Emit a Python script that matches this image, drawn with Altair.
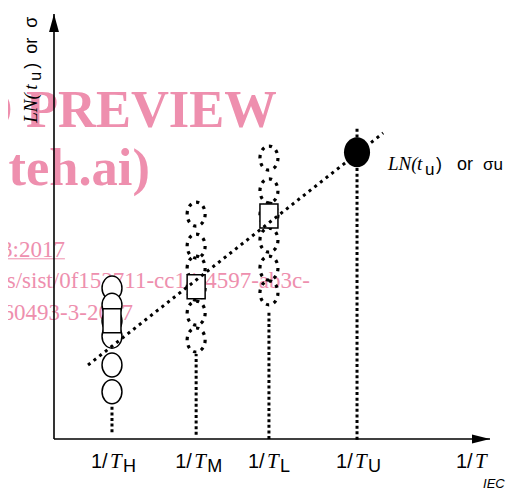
import altair as alt
import pandas as pd

# ---------------- data ----------------
tick_names = ["H", "M", "L", "U"]
tick_x = [1.33, 3.26, 4.93, 6.95]          # 1/T_H, 1/T_M, 1/T_L, 1/T_U
h_circle_y = [3.55, 3.15, 2.78, 2.42, 1.74, 1.11]
m_circle_y = [5.29, 4.54, 4.02, 3.55, 2.96, 2.33]
l_circle_y = [6.61, 5.84, 5.27, 4.68, 4.02, 3.44]
mean_y = [2.78, 3.58, 5.25]                # squares (H, M, L)
u_y = 6.75                                 # extrapolated value at 1/T_U
stem_lo = [0.16, 0.1, 0.0, -0.02]
stem_hi = [0.82, 2.0, 3.0, 7.34]
fit_x = [0.78, 7.55]
fit_y = [1.74, 7.20]
axis_end = 10
last_tick_x = 9.70

wm_texts = ["iTeh STANDARD PREVIEW", "(standards.iteh.ai)", "IEC 60493-3:2017",
            "https://standards.iteh.ai/catalog/standards/sist/0f153711-cc14-4597-ab3c-",
            "iec-60493-3-2017"]
wm_x = [5.11, 2.20, 0.25, 5.87, 1.81]
wm_y = [7.34, 5.98, 4.28, 3.55, 2.80]
wm_bold = [True, True, False, False, False]

PINK = "#ee8fae"
xs = alt.Scale(domain=[0, 10], range=[46, 482], nice=False, zero=False)
ys = alt.Scale(domain=[0, 10], range=[431, 6], nice=False, zero=False)


def X(f):
    return alt.X(f, type="quantitative", scale=xs, axis=None)


def Y(f):
    return alt.Y(f, type="quantitative", scale=ys, axis=None)


ELLIPSE = "M-0.83,0A0.83,1,0,1,1,0.83,0A0.83,1,0,1,1,-0.83,0Z"
ELLIPSE_D = "M-0.75,0A0.75,1,0,1,1,0.75,0A0.75,1,0,1,1,-0.75,0Z"
ELLIPSE_U = "M-0.87,0A0.87,1,0,1,1,0.87,0A0.87,1,0,1,1,-0.87,0Z"
RECT = "M-0.75,-1H0.75V1H-0.75Z"

layers = []

# ---- watermark ----
wm = pd.DataFrame({"t": wm_texts, "x": wm_x, "y": wm_y, "b": wm_bold})
layers.append(alt.Chart(wm[wm.b]).mark_text(
    font="Liberation Serif", fontWeight="bold", fontSize=52.5, color=PINK,
    align="right", baseline="alphabetic").encode(x=X("x"), y=Y("y"), text="t"))
layers.append(alt.Chart(wm[~wm.b]).mark_text(
    font="Liberation Serif", fontSize=23, color=PINK,
    align="right", baseline="alphabetic").encode(x=X("x"), y=Y("y"), text="t"))
ul = pd.DataFrame({"x": [-1.3], "x2": [wm_x[2]], "y": [4.24]})
layers.append(alt.Chart(ul).mark_rule(color=PINK, strokeWidth=1).encode(
    x=X("x"), x2="x2", y=Y("y")))

# ---- axes ----
ax = pd.DataFrame({"x": [0.0], "y": [0.0], "xe": [axis_end], "ye": [axis_end]})
layers.append(alt.Chart(ax).mark_rule(color="black", strokeWidth=1.6).encode(
    x=X("x"), y=Y("y"), y2=alt.Y2("ye")))
layers.append(alt.Chart(ax).mark_rule(color="black", strokeWidth=1.6).encode(
    x=X("x"), x2=alt.X2("xe"), y=Y("y")))
layers.append(alt.Chart(ax).mark_point(
    shape="M0,0L0.55,2L-0.55,2Z", size=324, filled=True, color="black", opacity=1
).encode(x=X("x"), y=Y("ye")))
layers.append(alt.Chart(ax).mark_point(
    shape="M0,0L-2,-0.5L-2,0.5Z", size=324, filled=True, color="black", opacity=1
).encode(x=X("xe"), y=Y("y")))

# ---- vertical dotted stems ----
stems = pd.DataFrame({"x": tick_x, "lo": stem_lo, "hi": stem_hi})
layers.append(alt.Chart(stems).mark_rule(
    color="black", strokeWidth=3, strokeDash=[3, 2.6]).encode(
    x=X("x"), y=Y("lo"), y2=alt.Y2("hi")))

# ---- observation circles ----
hdf = pd.DataFrame({"x": tick_x[0], "y": h_circle_y})
layers.append(alt.Chart(hdf).mark_point(
    shape=ELLIPSE, size=576, filled=False, color="black", strokeWidth=1.5, opacity=1,
    fill="white", fillOpacity=1).encode(x=X("x"), y=Y("y")))
mldf = pd.DataFrame({"x": [tick_x[1]] * len(m_circle_y) + [tick_x[2]] * len(l_circle_y),
                     "y": m_circle_y + l_circle_y})
layers.append(alt.Chart(mldf).mark_point(
    shape=ELLIPSE_D, size=576, filled=False, color="black", strokeWidth=3.2, opacity=1,
    strokeDash=[3.2, 5]).encode(x=X("x"), y=Y("y")))

# ---- means (rectangles) ----
mdf = pd.DataFrame({"x": tick_x[:3], "y": mean_y})
layers.append(alt.Chart(mdf).mark_point(
    shape=RECT, size=576, filled=False, color="black", strokeWidth=1.5, opacity=1,
    fill="white", fillOpacity=1).encode(x=X("x"), y=Y("y")))

# ---- regression line ----
fdf = pd.DataFrame({"x": fit_x, "y": fit_y})
layers.append(alt.Chart(fdf).mark_line(
    color="black", strokeWidth=3, strokeDash=[3, 4.2]).encode(x=X("x"), y=Y("y")))

# ---- extrapolated point ----
udf = pd.DataFrame({"x": [tick_x[3]], "y": [u_y]})
layers.append(alt.Chart(udf).mark_point(
    shape=ELLIPSE_U, size=900, filled=True, color="black", opacity=1).encode(
    x=X("x"), y=Y("y")))

# ---- tick labels ----
tl = pd.DataFrame({"x": tick_x + [last_tick_x], "s": tick_names + [""],
                   "y": -0.68})
base = alt.Chart(tl)
layers.append(base.mark_text(text="1/", font="Liberation Sans", fontSize=20,
                             align="left", baseline="alphabetic", dx=-21,
                             color="black").encode(x=X("x"), y=Y("y")))
layers.append(base.mark_text(text="T", font="Liberation Serif", fontStyle="italic",
                             fontSize=21, align="left", baseline="alphabetic", dx=-2,
                             color="black").encode(x=X("x"), y=Y("y")))
layers.append(base.mark_text(font="Liberation Sans", fontSize=18,
                             align="left", baseline="alphabetic", dx=11, dy=4,
                             color="black").encode(x=X("x"), y=Y("y"), text="s"))

# ---- IEC ----
iec = pd.DataFrame({"x": [9.84], "y": [-1.15], "t": ["IEC"]})
layers.append(alt.Chart(iec).mark_text(font="Liberation Sans", fontStyle="italic",
                                       fontSize=13, align="left", baseline="alphabetic",
                                       color="black").encode(x=X("x"), y=Y("y"), text="t"))

# ---- y axis title (rotated, mixed fonts) ----
ya = pd.DataFrame({"x": [-0.39], "y": [7.44]})
ych = alt.Chart(ya)
ypieces = [("LN(", "Liberation Serif", "italic", 19, 0, 0),
           ("t", "Liberation Serif", "italic", 19, 33, 0),
           ("u", "Liberation Sans", "normal", 16, 42, 4),
           (")", "Liberation Sans", "normal", 18, 54, 0),
           ("or", "Liberation Sans", "normal", 18, 69, 0),
           ("σ", "Liberation Sans", "normal", 18, 95, 0)]
for t, f, st, fs, dx, dy in ypieces:
    layers.append(ych.mark_text(text=t, font=f, fontStyle=st, fontSize=fs, angle=270,
                                align="left", baseline="alphabetic", dx=dx, dy=dy,
                                color="black").encode(x=X("x"), y=Y("y")))

# ---- right annotation ----
ra = pd.DataFrame({"x": [7.66], "y": [6.33]})
rch = alt.Chart(ra)
rpieces = [("LN(", "Liberation Serif", "italic", 19, 0, 0),
           ("t", "Liberation Serif", "italic", 19, 29, 0),
           ("u", "Liberation Sans", "normal", 17, 37, 5),
           (")", "Liberation Sans", "normal", 18, 48, 0),
           ("or", "Liberation Sans", "normal", 18, 69, 0),
           ("σu", "Liberation Sans", "normal", 17, 95, 0)]
for t, f, st, fs, dx, dy in rpieces:
    layers.append(rch.mark_text(text=t, font=f, fontStyle=st, fontSize=fs,
                                align="left", baseline="alphabetic", dx=dx, dy=dy,
                                color="black").encode(x=X("x"), y=Y("y")))

chart = alt.layer(*layers).properties(
    width=499, height=481, padding=0,
    autosize=alt.AutoSizeParams(type="none"),
).configure_view(stroke=None)

chart.save("out.html", embed_options={"renderer": "svg", "actions": False})
